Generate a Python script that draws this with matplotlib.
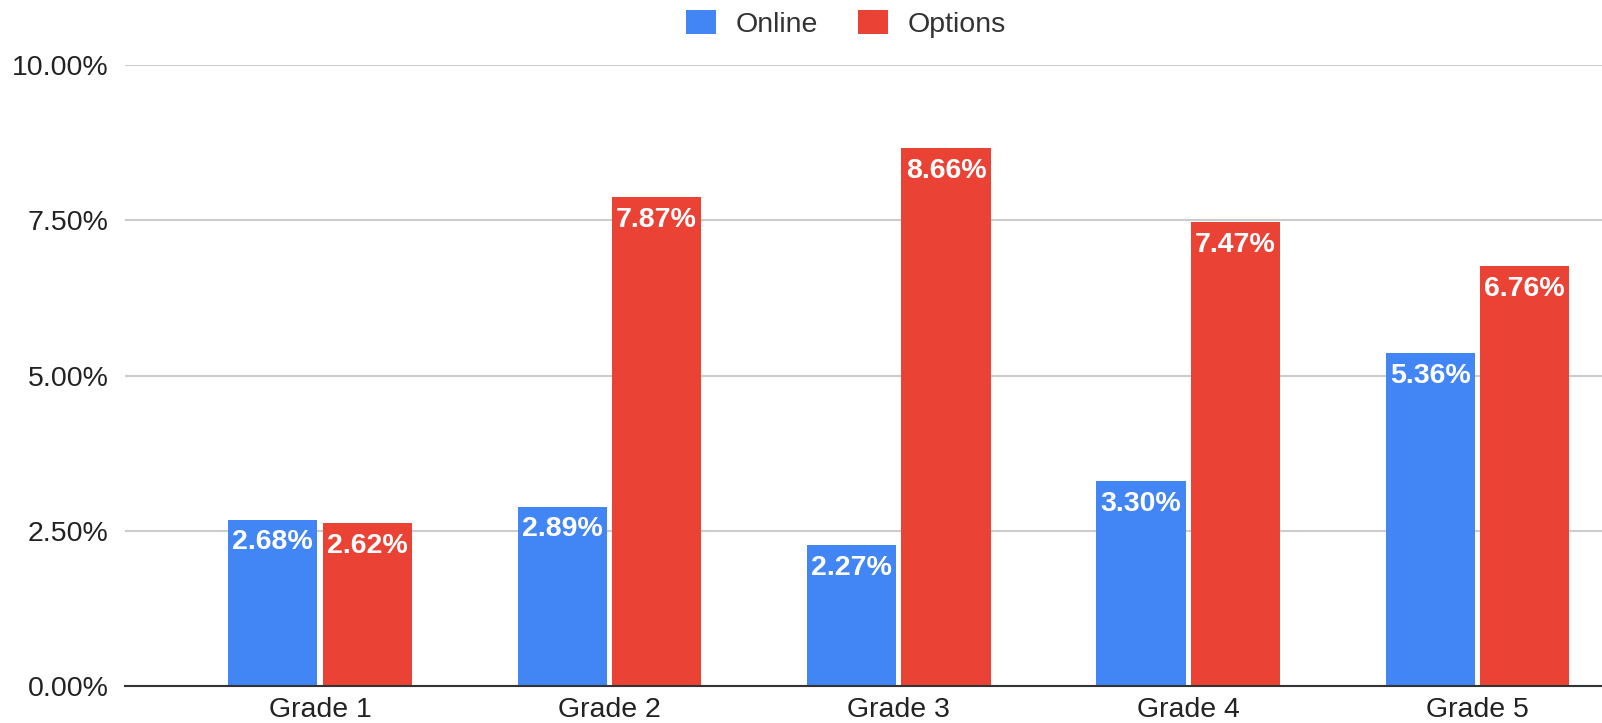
import numpy as np
import matplotlib
matplotlib.use('Agg')
import matplotlib.pyplot as plt
from matplotlib.patches import Patch
from matplotlib.ticker import FuncFormatter

plt.rcParams['font.family'] = ['Liberation Sans', 'DejaVu Sans']

grades = ['Grade 1', 'Grade 2', 'Grade 3', 'Grade 4', 'Grade 5']
online = [2.68, 2.89, 2.27, 3.30, 5.36]
options = [2.62, 7.87, 8.66, 7.47, 6.76]

blue = '#4285F4'
red = '#EA4335'

fig = plt.figure(figsize=(16.02, 7.23), dpi=100)
ax = fig.add_axes([125 / 1602, 1 - 686 / 723, 1 - 125 / 1602, (686 - 65) / 723])

x = np.arange(len(grades))
w = 0.308
gap = 0.009
b1 = ax.bar(x - w / 2 - gap, online, w, color=blue, zorder=3)
b2 = ax.bar(x + w / 2 + gap, options, w, color=red, zorder=3)

# value labels inside the top of each bar
for bars, vals in ((b1, online), (b2, options)):
    for rect, v in zip(bars, vals):
        ax.annotate('{:.2f}%'.format(v),
                    xy=(rect.get_x() + rect.get_width() / 2, v),
                    xytext=(0, -16.5), textcoords='offset points',
                    ha='center', va='center', color='white',
                    fontsize=20.5, fontweight='bold', zorder=4)

ax.set_xlim(-0.674, 4.43)
ax.set_ylim(0, 10)
ax.set_yticks([0, 2.5, 5, 7.5, 10])
ax.yaxis.set_major_formatter(FuncFormatter(lambda v, p: '{:.2f}%'.format(v)))
ax.set_xticks(x)
ax.set_xticklabels(grades)
ax.tick_params(axis='both', length=0, labelsize=20.5, colors='#222222')
ax.tick_params(axis='y', pad=12)
ax.tick_params(axis='x', pad=8)

ax.grid(axis='y', color='#cccccc', linewidth=1.5, zorder=0)
for s in ['top', 'right', 'left']:
    ax.spines[s].set_visible(False)
ax.spines['bottom'].set_color('#333333')
ax.spines['bottom'].set_linewidth(1.5)
ax.spines['bottom'].set_zorder(5)

handles = [Patch(facecolor=blue, label='Online'), Patch(facecolor=red, label='Options')]
fig.legend(handles=handles, loc='center', bbox_to_anchor=(846 / 1602, 1 - 24 / 723),
           ncol=2, frameon=False, fontsize=20.5, handlelength=1.05, handleheight=0.9,
           handletextpad=0.7, columnspacing=1.4, labelcolor='#333333')

plt.savefig('out.png', dpi=100)
